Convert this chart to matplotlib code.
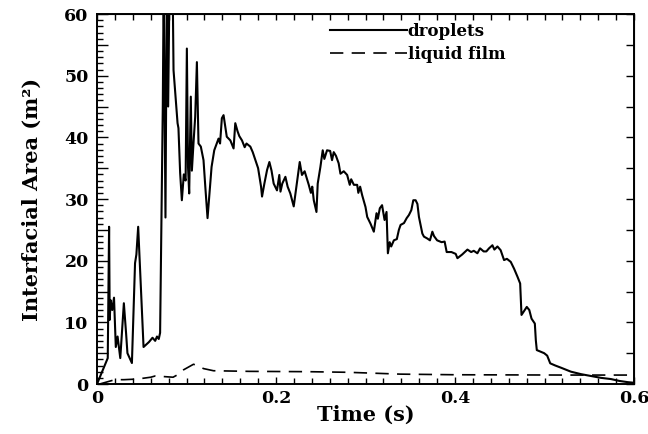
import matplotlib
matplotlib.use('Agg')
import matplotlib.pyplot as plt
from matplotlib.ticker import MultipleLocator, FuncFormatter

# droplets interfacial area
drop_t = [0.000, 0.012, 0.0135, 0.0142, 0.0152, 0.017, 0.019, 0.021, 0.023, 0.026,
          0.030, 0.0325, 0.034, 0.039, 0.0425, 0.044, 0.046, 0.052, 0.058, 0.062,
          0.065, 0.067, 0.069, 0.0705, 0.0735, 0.0745, 0.0765, 0.078, 0.0795, 0.081,
          0.0845, 0.0855, 0.090, 0.091, 0.0929, 0.0948, 0.097, 0.099, 0.1004, 0.1017,
          0.103, 0.1048, 0.106, 0.108, 0.1097, 0.1116, 0.1134, 0.116, 0.119, 0.121,
          0.1235, 0.128, 0.131, 0.1358, 0.1375, 0.1395, 0.1414, 0.143, 0.145, 0.149,
          0.1526, 0.1545, 0.157, 0.159, 0.162, 0.165, 0.167, 0.1713, 0.174, 0.177,
          0.180, 0.1833, 0.1844, 0.187, 0.190, 0.1926, 0.195, 0.1974, 0.2011, 0.2037,
          0.205, 0.207, 0.2105, 0.213, 0.216, 0.2198, 0.2235, 0.2265, 0.229, 0.232,
          0.2366, 0.239, 0.2405, 0.2422, 0.2452, 0.2466, 0.2496, 0.2522, 0.254, 0.257,
          0.2605, 0.2626, 0.2645, 0.267, 0.270, 0.272, 0.2757, 0.2795, 0.2824, 0.284,
          0.287, 0.2907, 0.292, 0.294, 0.2963, 0.300, 0.3019, 0.3056, 0.3093, 0.3123,
          0.3138, 0.316, 0.3185, 0.3213, 0.3235, 0.325, 0.327, 0.3287, 0.3317, 0.335,
          0.3373, 0.3392, 0.343, 0.346, 0.3485, 0.3512, 0.3534, 0.356, 0.358, 0.3597,
          0.3635, 0.3653, 0.369, 0.372, 0.3747, 0.3765, 0.380, 0.385, 0.3884, 0.3907,
          0.396, 0.4008, 0.4027, 0.408, 0.4139, 0.418, 0.421, 0.425, 0.428, 0.432,
          0.435, 0.438, 0.4418, 0.444, 0.4474, 0.451, 0.4548, 0.458, 0.4623, 0.466,
          0.4698, 0.4728, 0.4743, 0.477, 0.4802, 0.483, 0.4855, 0.4892, 0.4903, 0.4914,
          0.4996, 0.503, 0.5064, 0.512, 0.5183, 0.5295, 0.5407, 0.5519, 0.563, 0.5743,
          0.5836, 0.593, 0.600]
drop_a = [0.0, 4.2, 25.5, 10.4, 13.6, 12.0, 14.0, 6.0, 7.7, 4.2,
          13.1, 8.2, 5.0, 3.4, 19.6, 21.0, 25.5, 6.0, 6.8, 7.5,
          7.0, 7.7, 7.3, 8.3, 45.0, 65.0, 27.0, 65.0, 45.0, 65.0,
          65.0, 50.9, 42.3, 41.5, 34.2, 29.8, 34.0, 33.0, 54.4, 35.2,
          30.9, 46.6, 34.6, 39.5, 43.3, 52.2, 39.0, 38.5, 36.3, 32.0,
          26.9, 35.2, 37.9, 39.8, 39.0, 43.1, 43.6, 42.0, 40.1, 39.5,
          38.2, 42.3, 41.0, 40.2, 39.5, 38.4, 39.0, 38.5, 37.6, 36.3,
          35.0, 32.0, 30.4, 32.5, 34.7, 36.0, 34.6, 32.5, 31.4, 33.9,
          31.2, 32.5, 33.6, 32.0, 30.9, 28.8, 32.8, 36.0, 33.9, 34.5,
          32.3, 31.0, 32.0, 29.8, 27.9, 32.5, 35.2, 37.9, 36.5, 37.9,
          37.8, 36.3, 37.6, 37.0, 35.8, 34.1, 34.5, 33.9, 32.3, 33.2,
          32.3, 32.3, 31.0, 32.0, 30.6, 28.7, 27.1, 26.0, 24.7, 27.7,
          26.8, 28.5, 29.0, 26.6, 27.9, 21.2, 23.0, 22.3, 23.3, 23.5,
          25.0, 25.8, 26.1, 26.9, 27.4, 28.2, 29.8, 29.8, 29.2, 27.1,
          24.4, 23.9, 23.6, 23.3, 24.7, 24.0, 23.3, 23.0, 23.1, 21.4,
          21.4, 21.1, 20.4, 21.0, 21.8, 21.4, 21.6, 21.2, 22.0, 21.5,
          21.5, 22.0, 22.5, 21.8, 22.3, 21.7, 20.1, 20.3, 19.8, 18.7,
          17.4, 16.3, 11.2, 11.8, 12.5, 12.0, 10.6, 9.8, 7.1, 5.5,
          5.0, 4.6, 3.35, 3.0, 2.65, 2.0, 1.6, 1.3, 1.0, 0.8,
          0.5, 0.3, 0.2]

# liquid film interfacial area
film_t = [0.003, 0.020, 0.030, 0.045, 0.060, 0.065, 0.075, 0.085, 0.090, 0.0967,
          0.1078, 0.112, 0.119, 0.1302, 0.170, 0.2347, 0.280, 0.339, 0.400, 0.526,
          0.600]
film_a = [0.0, 0.7, 0.7, 0.8, 1.1, 1.3, 1.2, 1.1, 1.5, 2.3,
          3.2, 3.0, 2.5, 2.15, 2.05, 2.0, 1.9, 1.6, 1.5, 1.45,
          1.45]

FONT = 'DejaVu Serif'

fig = plt.figure(figsize=(6.48, 4.34), dpi=100)
ax = fig.add_axes([0.1497, 0.1152, 0.8287, 0.8525])

ax.plot(drop_t, drop_a, color='black', lw=1.5, label='droplets')
film, = ax.plot(film_t, film_a, color='black', lw=1.2, label='liquid film')
film.set_dashes([8, 5])

ax.set_xlim(0, 0.6)
ax.set_ylim(0, 60)

for s in ax.spines.values():
    s.set_linewidth(1.4)

# bottom / left ticks
ax.xaxis.set_major_locator(MultipleLocator(0.2))
ax.xaxis.set_minor_locator(MultipleLocator(0.02))
ax.xaxis.set_major_formatter(FuncFormatter(lambda v, p: '0' if abs(v) < 1e-9 else f'{v:.1f}'))
ax.yaxis.set_major_locator(MultipleLocator(5))
ax.yaxis.set_minor_locator(MultipleLocator(1))
ax.yaxis.set_major_formatter(FuncFormatter(lambda v, p: f'{int(round(v))}' if round(v) % 10 == 0 else ''))
ax.tick_params(axis='both', which='both', direction='in', width=1.0,
               top=False, right=False)
ax.tick_params(axis='x', which='major', length=5, pad=4)
ax.tick_params(axis='x', which='minor', length=4)
ax.tick_params(axis='y', which='major', length=8, pad=6)
ax.tick_params(axis='y', which='minor', length=4)

# top / right ticks
top = ax.secondary_xaxis('top')
top.xaxis.set_major_locator(MultipleLocator(0.02))
top.tick_params(direction='in', length=4, width=1.0, labeltop=False)
right = ax.secondary_yaxis('right')
right.yaxis.set_major_locator(MultipleLocator(5))
right.tick_params(direction='in', length=6, width=1.0, labelright=False)

for lbl in ax.get_xticklabels() + ax.get_yticklabels():
    lbl.set_family(FONT)
    lbl.set_fontweight('bold')
    lbl.set_fontsize(12.5)

ax.set_xlabel('Time (s)', family=FONT, fontweight='bold', fontsize=15, labelpad=-1)
ax.set_ylabel('Interfacial Area (m²)', family=FONT, fontweight='bold', fontsize=15, labelpad=16)

leg = ax.legend(loc='upper left', bbox_to_anchor=(0.434, 0.975), frameon=False,
                prop={'family': FONT, 'weight': 'bold', 'size': 12},
                handlelength=4.6, handletextpad=0.05, labelspacing=0.35,
                borderpad=0, borderaxespad=0)

fig.savefig('out.png', dpi=100, facecolor='white')
